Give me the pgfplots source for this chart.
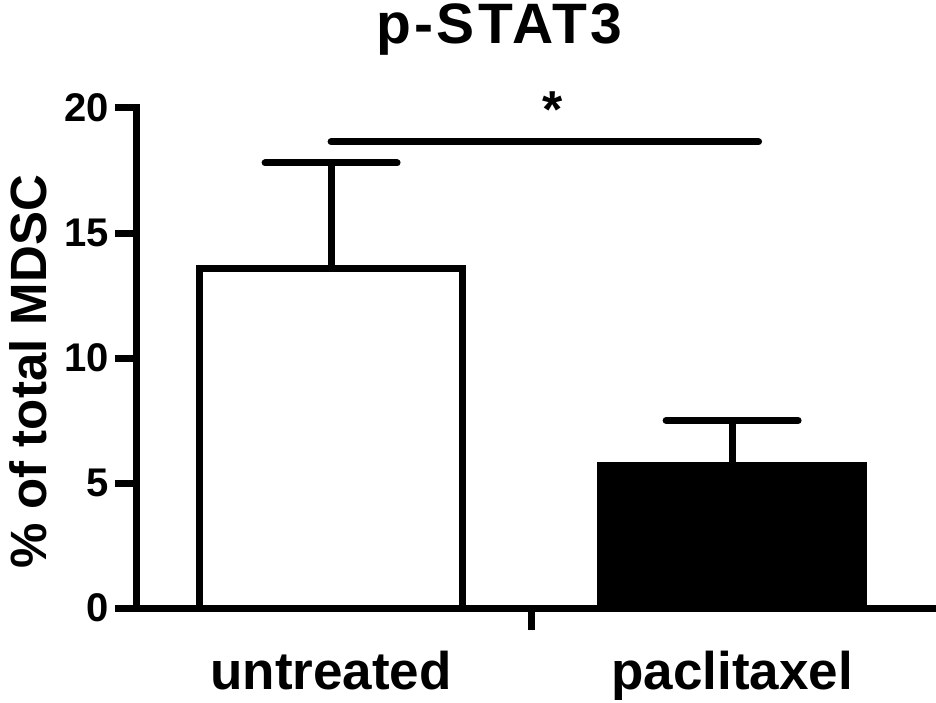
\documentclass[border=0pt]{standalone}
\usepackage{pgfplots}
\pgfplotsset{compat=1.18}
\usepackage{fontspec}
\setmainfont{Liberation Sans}
\begin{document}
\begin{tikzpicture}
\begin{axis}[
  name=ax,
  scale only axis, width=798pt, height=500pt,
  xmin=-0.484, xmax=1.506, ymin=0, ymax=20,
  axis x line=bottom, axis y line=left,
  axis line style={-, line width=7pt, line cap=rect},
  clip=false,
  ytick={0,5,10,15,20},
  xtick={0.5}, xticklabels={},
  tick align=outside,
  major tick length=22pt,
  major tick style={black, line width=7pt},
  /pgf/number format/assume math mode=true,
  yticklabel style={font=\fontsize{40}{44}\selectfont\bfseries, inner sep=0pt, xshift=-6pt},
  extra x ticks={0,1},
  extra x tick labels={untreated, paclitaxel},
  extra x tick style={major tick length=0pt, tick label style={font=\fontsize{53}{60}\selectfont\bfseries, inner sep=0pt, yshift=-43pt}},
  ylabel={\% of total MDSC},
  ylabel style={font=\fontsize{51}{60}\selectfont\bfseries, at={(axis description cs:-0.1366,0.472)}, anchor=center},
]
\addplot[ybar, bar width=0.655, bar shift=0pt, fill=white, draw=black, line width=7pt,
  error bars/.cd, y dir=plus, y explicit, error mark=|,
  error bar style={line width=7pt, line cap=round, black},
  error mark options={line width=7pt, mark size=66pt, line cap=round, black}]
  coordinates {(0,13.6) +- (0,4.2)};
\addplot[ybar, bar width=0.655, bar shift=0pt, fill=black, draw=black, line width=7pt,
  error bars/.cd, y dir=plus, y explicit, error mark=|,
  error bar style={line width=7pt, line cap=round, black},
  error mark options={line width=7pt, mark size=66pt, line cap=round, black}]
  coordinates {(1,5.7) +- (0,1.8)};
\addplot[black, line width=7pt, line cap=round] coordinates {(0,18.65) (1.066,18.65)};
\node[anchor=base, font=\fontsize{52}{60}\selectfont\bfseries, inner sep=0pt] at (axis cs:0.553,19.2) {*};
\node[anchor=base, font=\fontsize{57}{60}\selectfont\bfseries\addfontfeatures{LetterSpace=6}, inner sep=0pt] at (axis cs:0.42,22.56) {p-STAT3};
\end{axis}
\pgfresetboundingbox
\path ([shift={(-137pt,-94pt)}]ax.south west) rectangle ([shift={(799pt,608pt)}]ax.south west);
\end{tikzpicture}
\end{document}
